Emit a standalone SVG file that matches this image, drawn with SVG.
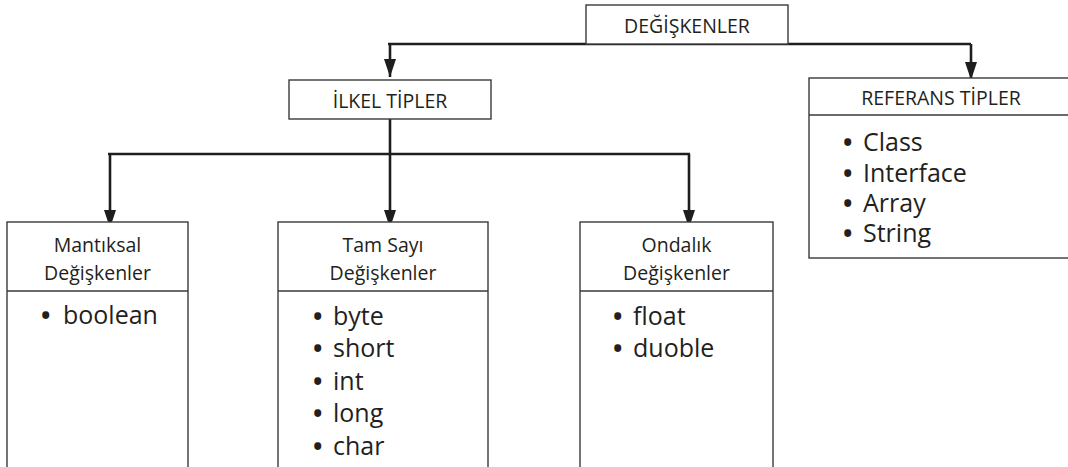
<svg xmlns="http://www.w3.org/2000/svg" width="1068" height="467" viewBox="0 0 1068 467">
  <style>
    .box { fill: #ffffff; stroke: #3a3a3a; stroke-width: 1.4; }
    .div { stroke: #3a3a3a; stroke-width: 1.4; }
    .conn { fill: none; stroke: #1e1e1e; stroke-width: 2.6; }
    .hd { font-family: "Open Sans", "Noto Sans", sans-serif; font-size: 19.5px; fill: #231f20; text-anchor: middle; }
    .it { font-family: "Open Sans", "Noto Sans", sans-serif; font-size: 25px; fill: #231f20; }
    .bl { font-weight: 700; }
  </style>
  <defs>
    <marker id="arr" markerUnits="userSpaceOnUse" markerWidth="19" markerHeight="12" refX="18" refY="6" orient="auto">
      <path d="M0,0 L18,6 L0,12 z" fill="#1e1e1e"/>
    </marker>
  </defs>
  <rect width="1068" height="467" fill="#ffffff"/>

  <g id="connectors">
    <path class="conn" d="M971,44 L388,44"/>
    <path class="conn" d="M390,44 L390,77" marker-end="url(#arr)"/>
    <path class="conn" d="M971,44 L971,80" marker-end="url(#arr)"/>
    <path class="conn" d="M390,119 L390,228" marker-end="url(#arr)"/>
    <path class="conn" d="M108,154 L690,154"/>
    <path class="conn" d="M110,154 L110,228" marker-end="url(#arr)"/>
    <path class="conn" d="M689,154 L689,228" marker-end="url(#arr)"/>
  </g>

  <g id="degiskenler">
    <rect class="box" x="586" y="5" width="202" height="39"/>
    <text class="hd" x="687" y="33">DEĞİŞKENLER</text>
  </g>

  <g id="ilkel-tipler">
    <rect class="box" x="289" y="80" width="202" height="39"/>
    <text class="hd" x="390" y="108">İLKEL TİPLER</text>
  </g>

  <g id="referans-tipler">
    <rect class="box" x="809" y="78" width="270" height="180"/>
    <line class="div" x1="809" y1="115" x2="1079" y2="115"/>
    <text class="hd" x="941" y="105">REFERANS TİPLER</text>
    <text class="it" x="843" y="151"><tspan class="bl">•</tspan><tspan x="863">Class</tspan></text>
    <text class="it" x="843" y="182"><tspan class="bl">•</tspan><tspan x="863">Interface</tspan></text>
    <text class="it" x="843" y="212"><tspan class="bl">•</tspan><tspan x="863">Array</tspan></text>
    <text class="it" x="843" y="242"><tspan class="bl">•</tspan><tspan x="863">String</tspan></text>
  </g>

  <g id="mantiksal">
    <rect class="box" x="7" y="222" width="181" height="260"/>
    <line class="div" x1="7" y1="291" x2="188" y2="291"/>
    <text class="hd" x="97.5" y="252">Mantıksal</text>
    <text class="hd" x="97.5" y="280">Değişkenler</text>
    <text class="it" x="41" y="324"><tspan class="bl">•</tspan><tspan x="63">boolean</tspan></text>
  </g>

  <g id="tam-sayi">
    <rect class="box" x="278" y="222" width="210" height="260"/>
    <line class="div" x1="278" y1="291" x2="488" y2="291"/>
    <text class="hd" x="383" y="252">Tam Sayı</text>
    <text class="hd" x="383" y="280">Değişkenler</text>
    <text class="it" x="313" y="325"><tspan class="bl">•</tspan><tspan x="333">byte</tspan></text>
    <text class="it" x="313" y="357"><tspan class="bl">•</tspan><tspan x="333">short</tspan></text>
    <text class="it" x="313" y="390"><tspan class="bl">•</tspan><tspan x="333">int</tspan></text>
    <text class="it" x="313" y="422"><tspan class="bl">•</tspan><tspan x="333">long</tspan></text>
    <text class="it" x="313" y="455"><tspan class="bl">•</tspan><tspan x="333">char</tspan></text>
  </g>

  <g id="ondalik">
    <rect class="box" x="580" y="222" width="193" height="260"/>
    <line class="div" x1="580" y1="291" x2="773" y2="291"/>
    <text class="hd" x="676.5" y="252">Ondalık</text>
    <text class="hd" x="676.5" y="280">Değişkenler</text>
    <text class="it" x="613" y="325"><tspan class="bl">•</tspan><tspan x="633">float</tspan></text>
    <text class="it" x="613" y="357"><tspan class="bl">•</tspan><tspan x="633">duoble</tspan></text>
  </g>
</svg>
